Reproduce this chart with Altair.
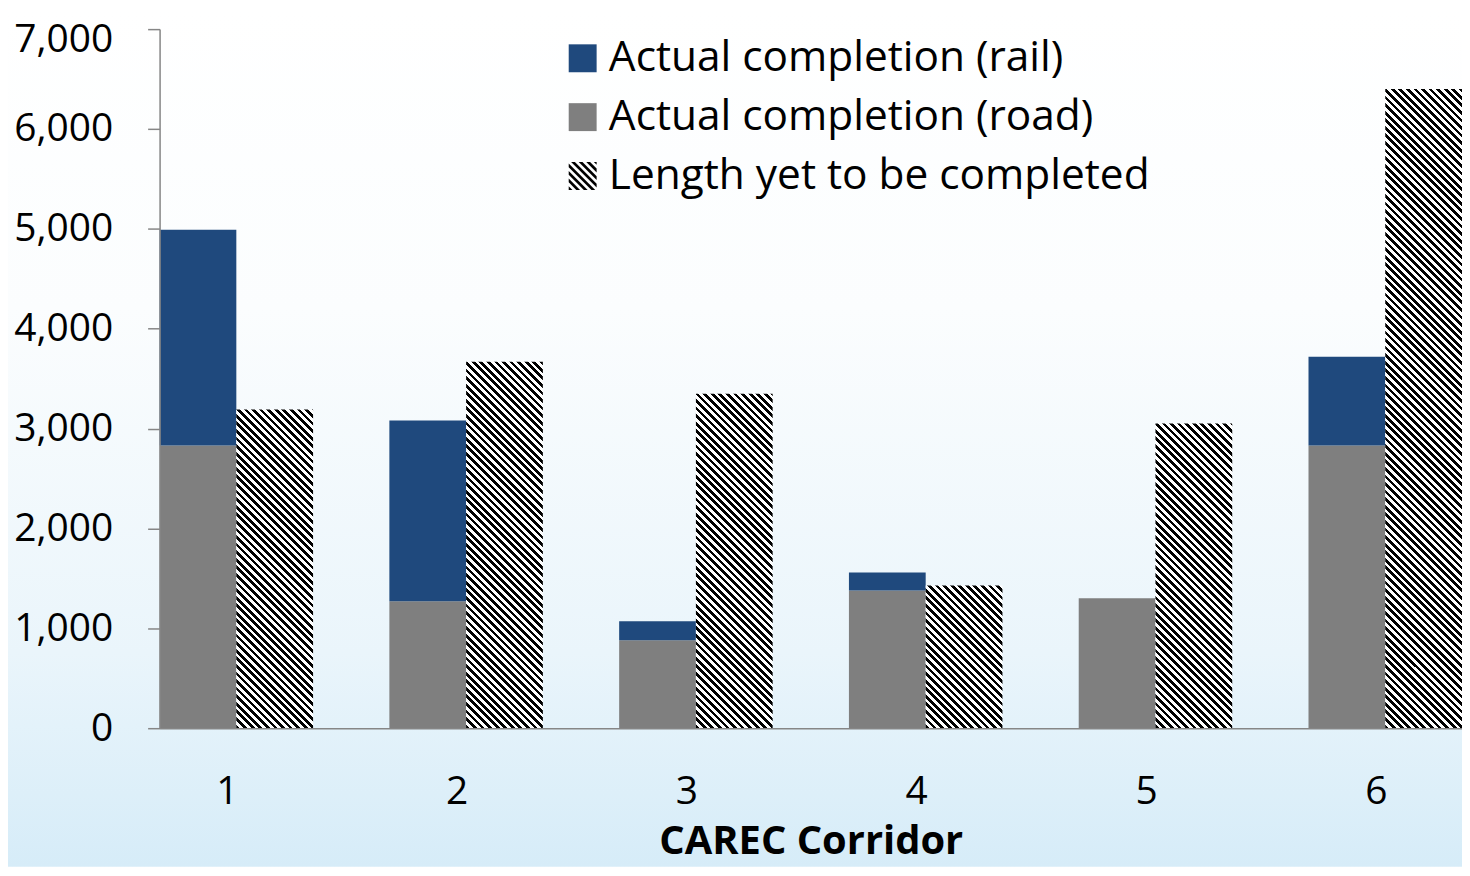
import altair as alt
import pandas as pd

# ---- data ----
corridors = [1, 2, 3, 4, 5, 6]
rail = [2160, 1810, 190, 180, 0, 890]
road = [2830, 1270, 880, 1380, 1300, 2830]
yet = [3190, 3670, 3350, 1430, 3050, 6400]

series_names = ["Actual completion (rail)", "Actual completion (road)", "Length yet to be completed"]
y_ticks = [0, 1000, 2000, 3000, 4000, 5000, 6000, 7000]
x_title = "CAREC Corridor"

# ---- styles ----
BLUE = "#1F497D"
GRAY = "#7F7F7F"
AXC = "#868686"
FONT = "Open Sans"
W, H = 1306, 701
PAD = {"left": 152, "top": 20, "right": 0, "bottom": 139}
Y_MAX = 7000
P_IN = 0.332
PERIOD = 7.6
step = W / (len(corridors) - P_IN)
sub_w = step * (1 - P_IN) / 2


def hatch(w, h, period=PERIOD):
    """Diagonal black/white stripes as a linear gradient in the bar's bbox."""
    s = (w + h) / (w * w + h * h)
    n = (w + h) / period
    stops = []
    k = 0
    while k / n < 1:
        o0 = round(k / n, 5)
        o1 = round(min((k + 0.5) / n, 1), 5)
        o2 = round(min((k + 1) / n, 1), 5)
        stops += [
            {"offset": o0, "color": "#000000"},
            {"offset": o1, "color": "#000000"},
            {"offset": o1, "color": "#ffffff"},
            {"offset": o2, "color": "#ffffff"},
        ]
        k += 1
    return {"gradient": "linear", "x1": 0, "y1": 1, "x2": round(w * s, 5), "y2": round(1 - h * s, 5), "stops": stops}


def _clip(poly, a, b, c):
    out = []
    n = len(poly)
    for i in range(n):
        p, q = poly[i], poly[(i + 1) % n]
        fp = a * p[0] + b * p[1] - c
        fq = a * q[0] + b * q[1] - c
        if fp <= 0:
            out.append(p)
        if (fp < 0 < fq) or (fq < 0 < fp):
            t = fp / (fp - fq)
            out.append((p[0] + t * (q[0] - p[0]), p[1] + t * (q[1] - p[1])))
    return out


def hatch_path(side_px=28, period=PERIOD):
    """Striped square symbol path in the [-1, 1] box."""
    unit = side_px / 2.0
    p = period / unit
    d = p / 2
    parts = []
    c0 = -2.0
    while c0 < 2.0:
        sq = [(-1, -1), (1, -1), (1, 1), (-1, 1)]
        poly = _clip(sq, -1, 1, -c0)          # x - y >= c0
        poly = _clip(poly, 1, -1, c0 + d)     # x - y <= c0 + d
        if len(poly) >= 3:
            parts.append("M" + "L".join(f"{x:.3f},{y:.3f}" for x, y in poly) + "Z")
        c0 += p
    return "".join(parts)


bg_grad = {
    "gradient": "linear", "x1": 0, "y1": 0, "x2": 0, "y2": 1,
    "stops": [
        {"offset": 0, "color": "#ffffff"},
        {"offset": 0.35, "color": "#fbfdfe"},
        {"offset": 0.75, "color": "#eaf5fb"},
        {"offset": 1, "color": "#d6ecf8"},
    ],
}

# ---- tables ----
done_rows = []
for c, rl, rd in zip(corridors, rail, road):
    done_rows.append({"corridor": c, "series": series_names[1], "value": rd, "ord": 0, "group": "done"})
    done_rows.append({"corridor": c, "series": series_names[0], "value": rl, "ord": 1, "group": "done"})
df_done = pd.DataFrame(done_rows)
df_yet = pd.DataFrame({"corridor": corridors, "value": yet, "group": ["yet"] * len(corridors)})
df_leg = pd.DataFrame({"series": series_names, "corridor": corridors[:3], "value": [0, 0, 0], "group": ["done"] * 3})

x_enc = alt.X(
    "corridor:O",
    title=x_title,
    scale=alt.Scale(domain=corridors, paddingInner=P_IN, paddingOuter=0),
    axis=alt.Axis(
        labelAngle=0, ticks=False, grid=False, zindex=1,
        labelFont=FONT, labelFontSize=39, labelColor="black",
        labelPadding=45, labelOffset=-9,
        domainColor=AXC, domainWidth=1.5,
        titleFont=FONT, titleFontSize=40, titleFontWeight="bold", titleColor="black",
        titlePadding=10,
    ),
)
y_enc = alt.Y(
    "value:Q",
    title=None,
    scale=alt.Scale(domain=[0, Y_MAX], nice=False),
    axis=alt.Axis(
        values=y_ticks, format=",d", grid=False, zindex=1,
        labelFont=FONT, labelFontSize=39, labelColor="black", labelPadding=35,
        labelOffset={"condition": {"test": f"datum.value === {Y_MAX}", "value": 10}, "value": 0},
        tickSize=12, tickColor=AXC, tickWidth=1.5,
        domainColor=AXC, domainWidth=1.5,
    ),
)
xoff = alt.XOffset("group:N", scale=alt.Scale(domain=["done", "yet"], paddingInner=0, paddingOuter=0))

legend = alt.Legend(
    orient="none", legendX=403, legendY=8, title=None, zindex=1,
    symbolSize=784, symbolStrokeWidth=0, symbolOpacity=1,
    labelFont=FONT, labelFontSize=42.5, labelColor="black",
    labelOffset=5, rowPadding=16, padding=0, labelLimit=0,
)
color_scale = alt.Scale(domain=series_names, range=[BLUE, GRAY, "#000000"])
square_path = "M-1,-1L1,-1L1,1L-1,1Z"
shape_scale = alt.Scale(domain=series_names, range=[square_path, square_path, hatch_path()])

bg = alt.Chart(alt.Data(values=[{"k": 1}])).mark_rect(fill=bg_grad).encode(
    x=alt.value(-PAD["left"]), x2=alt.value(W + PAD["right"]),
    y=alt.value(-PAD["top"]), y2=alt.value(H + PAD["bottom"]),
)

done = alt.Chart(df_done).mark_bar().encode(
    x=x_enc, xOffset=xoff, y=y_enc,
    fill=alt.condition(alt.datum.series == series_names[0], alt.value(BLUE), alt.value(GRAY)),
    detail="series:N",
    order=alt.Order("ord:Q"),
)

# legend-only layer (draws nothing; provides the legend with a striped symbol)
leg = (
    alt.Chart(df_leg)
    .transform_filter("false")
    .mark_point(filled=True, opacity=1, strokeWidth=0)
    .encode(
        x=x_enc, y=y_enc,
        color=alt.Color("series:N", scale=color_scale, legend=legend),
        shape=alt.Shape("series:N", scale=shape_scale, legend=legend),
    )
)

layers = [bg, done]
for c, v in zip(corridors, yet):
    h = v * H / Y_MAX
    layers.append(
        alt.Chart(df_yet)
        .transform_filter(alt.datum.corridor == c)
        .mark_bar(fill=hatch(sub_w, h))
        .encode(x=x_enc, xOffset=xoff, y=y_enc)
    )
layers.append(leg)

chart = (
    alt.layer(*layers)
    .properties(width=W, height=H, autosize=alt.AutoSizeParams(type="none"), padding=PAD)
    .configure_view(stroke=None)
)

chart.save("out.html", embed_options={"renderer": "svg", "actions": False})
